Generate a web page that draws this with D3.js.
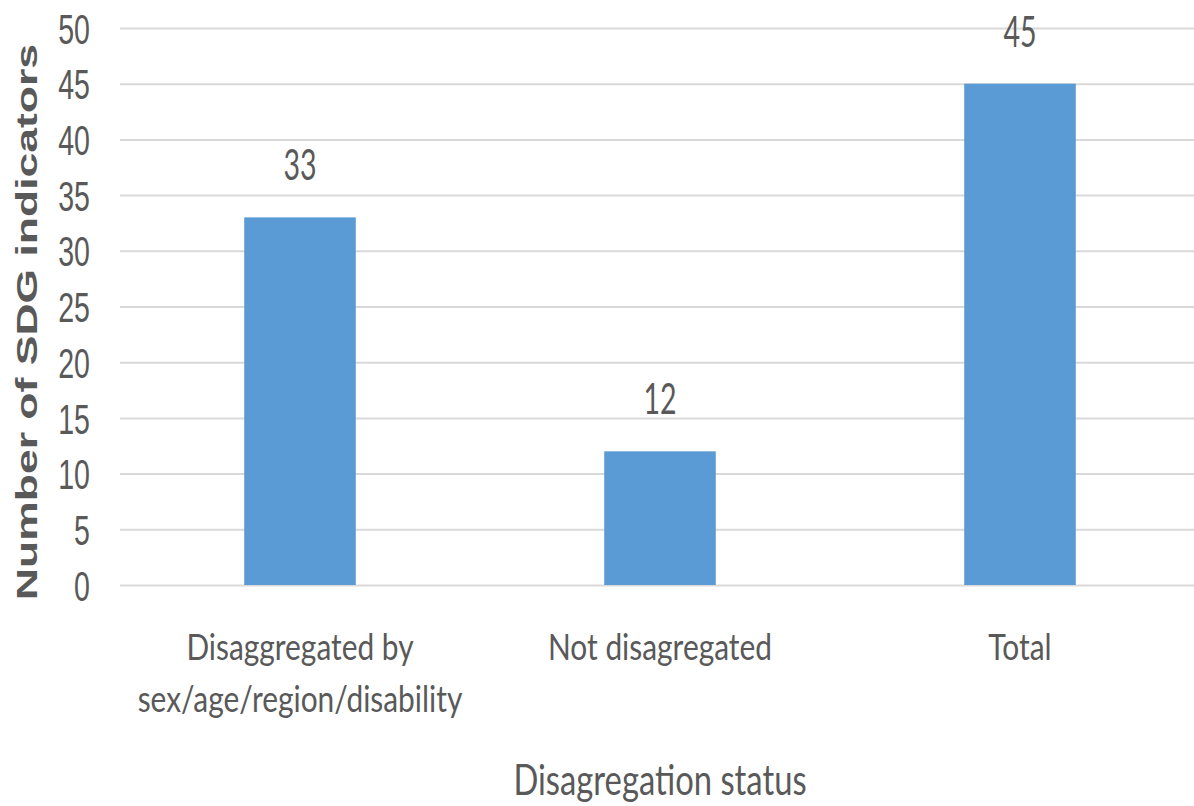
<!DOCTYPE html>
<html>
<head>
<meta charset="utf-8">
<script src="https://cdn.jsdelivr.net/npm/d3@7"></script>
<style>
  body { margin: 0; background: #fff; }
  text { fill: #595959; }
</style>
</head>
<body>
<div id="chart"></div>
<script>
var width = 1194, height = 806;
var SX = 0.68; // the source picture is squeezed sideways, so the text is too

var categories = ["Disaggregated by\nsex/age/region/disability", "Not disagregated", "Total"];
var values = [33, 12, 45];
var yTicks = [0, 5, 10, 15, 20, 25, 30, 35, 40, 45, 50];
var yTitle = "Number of SDG indicators";
var xTitle = "Disagregation status";

var plotLeft = 120, plotRight = 1200, plotTop = 28, plotBottom = 585;

var svg = d3.select("#chart").append("svg")
    .attr("width", width)
    .attr("height", height)
    .style("font-family", "Lato, 'Open Sans', sans-serif");

var x = d3.scaleBand()
    .domain(categories)
    .range([plotLeft, plotRight])
    .paddingInner(0.69)
    .paddingOuter(0.345);

var y = d3.scaleLinear()
    .domain([0, 50])
    .range([plotBottom, plotTop]);

// gridlines + tick labels
var yAxis = svg.append("g")
    .attr("class", "y-axis")
    .attr("transform", "translate(" + plotLeft + ",0)")
    .call(d3.axisLeft(y).tickValues(yTicks).tickSize(-(width - plotLeft)).tickFormat(d3.format("d")));

yAxis.select(".domain").remove();
yAxis.selectAll(".tick line")
    .attr("stroke", "#d9d9d9")
    .attr("stroke-width", 2);
yAxis.selectAll(".tick text")
    .attr("x", -30 / SX)
    .attr("dy", "0.36em")
    .attr("transform", "scale(" + SX + ",1)")
    .attr("font-size", "42px")
    .attr("fill", "#595959");

// bars
svg.append("g").selectAll("rect")
    .data(values)
    .enter()
    .append("rect")
    .attr("x", function(d, i) { return x(categories[i]); })
    .attr("width", x.bandwidth())
    .attr("y", function(d) { return y(d); })
    .attr("height", function(d) { return y(0) - y(d); })
    .attr("fill", "#5b9bd5");

// value labels
svg.append("g").selectAll("text")
    .data(values)
    .enter()
    .append("text")
    .text(function(d) { return d; })
    .attr("text-anchor", "middle")
    .attr("font-size", "42px")
    .attr("transform", function(d, i) {
        var cx = x(categories[i]) + x.bandwidth() / 2;
        return "translate(" + cx + "," + (y(d) - 37) + ") scale(" + SX + ",1)";
    });

// category labels
var cats = svg.append("g").selectAll("text")
    .data(categories)
    .enter()
    .append("text")
    .attr("text-anchor", "middle")
    .attr("font-size", "36px")
    .attr("transform", function(d) {
        var cx = x(d) + x.bandwidth() / 2;
        return "translate(" + cx + ",660) scale(0.83,1)";
    });

cats.selectAll("tspan")
    .data(function(d) { return d.split("\n"); })
    .enter()
    .append("tspan")
    .attr("x", 0)
    .attr("y", function(d, i) { return i * 52; })
    .text(function(d) { return d; });

// axis titles
svg.append("text")
    .text(xTitle)
    .attr("text-anchor", "middle")
    .attr("font-size", "42px")
    .attr("transform", "translate(660,795) scale(0.78,1)");

svg.append("text")
    .text(yTitle)
    .attr("text-anchor", "middle")
    .attr("font-family", "'Liberation Sans', Arial, sans-serif")
    .attr("font-weight", "bold")
    .attr("font-size", "44.5px")
    .attr("transform", "translate(37,322) scale(" + SX + ",1) rotate(-90)");
</script>
</body>
</html>
